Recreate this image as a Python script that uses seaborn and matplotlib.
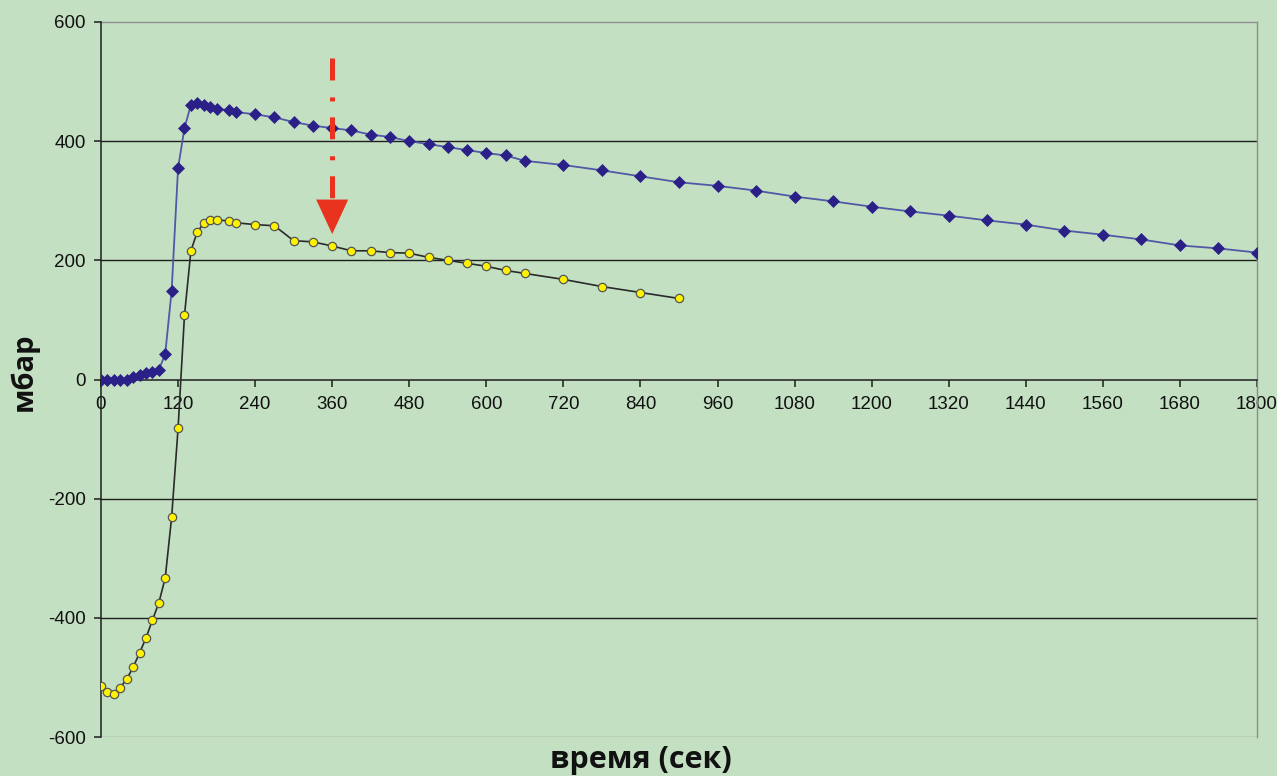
import matplotlib
matplotlib.use("Agg")
import matplotlib.pyplot as plt
import seaborn as sns
import numpy as np

# ---------------- data ----------------
blue_t = [0, 10, 20, 30, 40, 50, 60, 70, 80, 90, 100, 110, 120, 130, 140, 150, 160, 170, 180,
          200, 210, 240, 270, 300, 330, 360, 390, 420, 450, 480, 510, 540, 570, 600, 630, 660,
          720, 780, 840, 900, 960, 1020, 1080, 1140, 1200, 1260, 1320, 1380, 1440, 1500, 1560,
          1620, 1680, 1740, 1800]
blue_p = [0, 0, 0, 0, 0, 4, 8, 11, 13, 16, 43, 149, 355, 422, 461, 464, 460, 457, 454,
          452, 449, 445, 440, 432, 426, 422, 418, 411, 407, 400, 395, 390, 385, 380, 376, 367,
          360, 351, 341, 331, 325, 317, 307, 299, 290, 282, 275, 267, 260, 250, 243,
          235, 225, 220, 213]

yellow_t = [0, 10, 20, 30, 40, 50, 60, 70, 80, 90, 100, 110, 120, 130, 140, 150, 160, 170, 180,
            200, 210, 240, 270, 300, 330, 360, 390, 420, 450, 480, 510, 540, 570, 600, 630, 660,
            720, 780, 840, 900]
yellow_p = [-515, -525, -527, -517, -503, -483, -459, -434, -404, -375, -333, -231, -82, 108,
            216, 248, 262, 268, 268, 266, 263, 260, 258, 233, 231, 224, 216, 216, 213, 212,
            205, 200, 195, 190, 183, 178, 168, 156, 146, 136]

x_ticks = list(range(0, 1801, 120))
y_ticks = list(range(-600, 601, 200))
x_label = "время (сек)"
y_label = "мбар"

# arrow annotation (data units)
arrow_x = 360
arrow_top = 539
arrow_base = 302
arrow_tip = 244
arrow_half_w = 25

# ---------------- style ----------------
bg = "#C4E0C2"
sns.set_theme(style="white")
plt.rcParams["font.family"] = ["Liberation Sans", "DejaVu Sans"]
plt.rcParams["axes.unicode_minus"] = False
plt.rcParams["lines.scale_dashes"] = False

fig = plt.figure(figsize=(12.77, 7.76), dpi=100, facecolor=bg)
ax = fig.add_axes([101 / 1277, 39 / 776, 1156 / 1277, 715 / 776])
ax.set_facecolor(bg)

# grid lines
for yv in [-400, -200, 200, 400]:
    ax.axhline(yv, color="#1e1e1e", lw=1.0, zorder=1)
ax.axhline(-600, color="#8c8c8c", lw=1.0, zorder=1)

# series
sns.lineplot(x=blue_t, y=blue_p, ax=ax, color="#5058A8", lw=1.3, marker="D",
             markersize=6.2, markerfacecolor="#2B2088", markeredgecolor="#2B2088",
             markeredgewidth=0.5, zorder=4)
sns.lineplot(x=yellow_t, y=yellow_p, ax=ax, color="#2a2a2a", lw=1.2, marker="o",
             markersize=6, markerfacecolor="#FFF200", markeredgecolor="#555555",
             markeredgewidth=0.9, zorder=5)

# red dash-dot arrow
shaft, = ax.plot([arrow_x, arrow_x], [arrow_top, arrow_base], color="#E8341E",
                 lw=3.6, solid_capstyle="butt", zorder=6)
shaft.set_dashes([15.8, 12.2, 2.9, 11.5])
shaft.set_dash_capstyle("butt")
ax.fill([arrow_x - arrow_half_w, arrow_x + arrow_half_w, arrow_x],
        [arrow_base, arrow_base, arrow_tip], color="#E8341E", lw=0, zorder=6)

# axes
ax.set_xlim(0, 1800)
ax.set_ylim(-600, 600)
ax.set_xticks(x_ticks)
ax.set_yticks(y_ticks)
ax.spines["bottom"].set_position(("data", 0))
for s in ["left", "bottom"]:
    ax.spines[s].set_color("#1e1e1e")
    ax.spines[s].set_linewidth(1.1)
for s in ["top", "right"]:
    ax.spines[s].set_color("#8c8c8c")
    ax.spines[s].set_linewidth(1.0)
ax.spines["left"].set_zorder(3)
ax.spines["bottom"].set_zorder(3)

ax.tick_params(axis="both", which="major", direction="out", length=5, width=1.1,
               color="#1e1e1e", labelsize=13.5, labelcolor="#111111")
ax.tick_params(axis="x", pad=7, bottom=True)
ax.tick_params(axis="y", pad=6, left=True)

lab_font = ["Open Sans", "DejaVu Sans"]
ax.set_xlabel(x_label, fontsize=22, fontweight="bold", family=lab_font, color="#111111")
ax.set_ylabel(y_label, fontsize=21, fontweight="bold", family=lab_font, color="#111111")
ax.xaxis.set_label_coords((641 - 101) / 1156, (737 - 745) / 715)
ax.yaxis.set_label_coords((39 - 101) / 1156, (737 - 372) / 715)

fig.savefig("out.png", dpi=100, facecolor=bg)
